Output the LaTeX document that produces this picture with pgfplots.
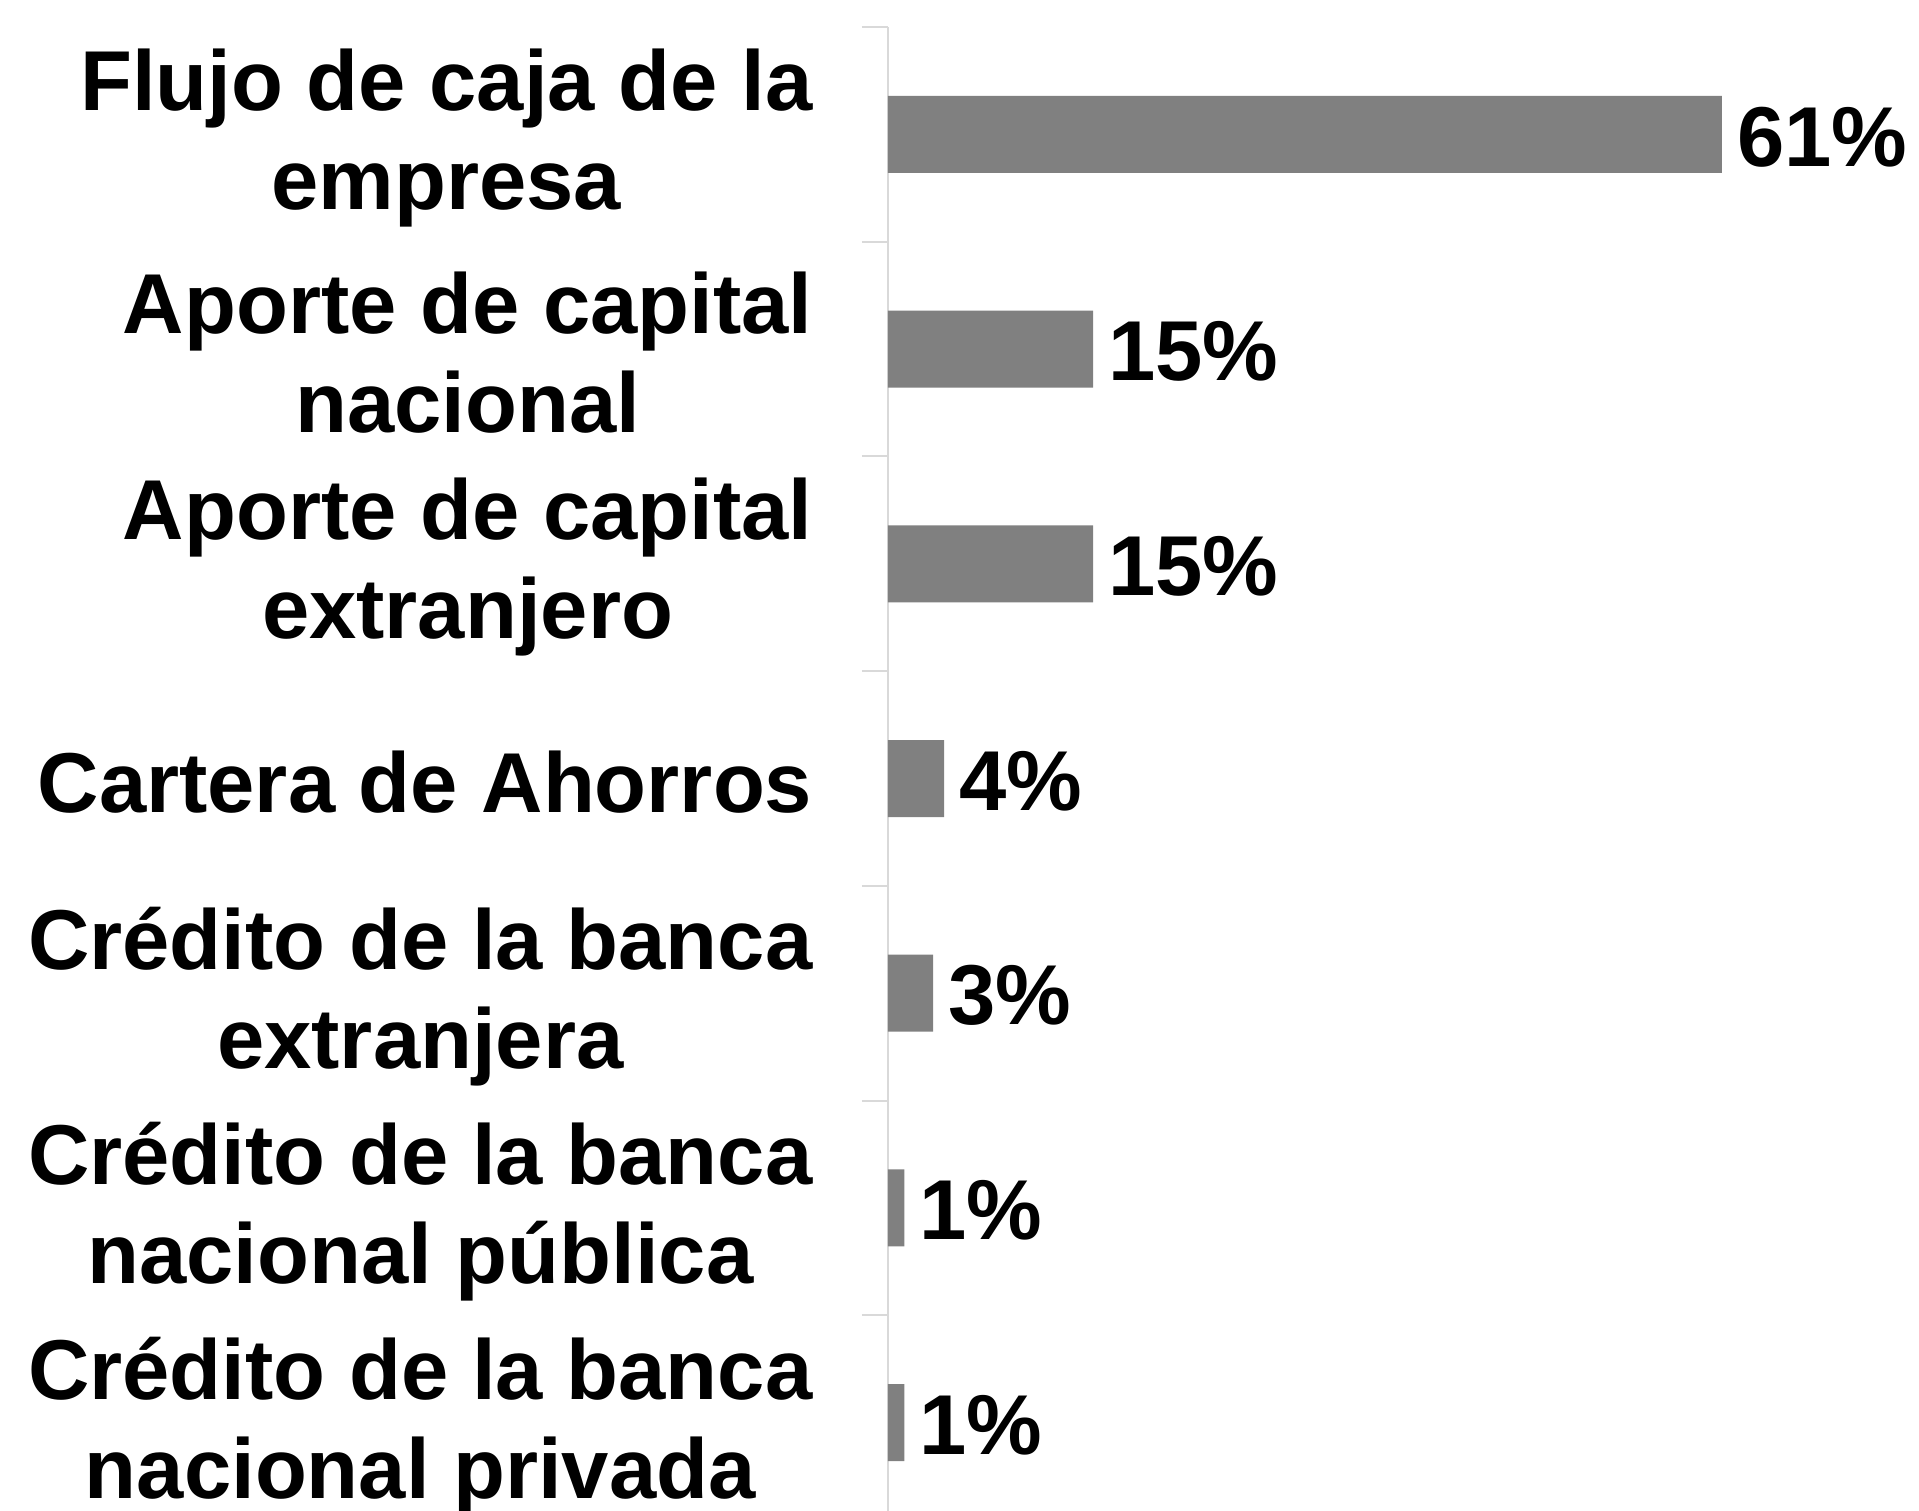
\documentclass[border=0pt]{standalone}
\usepackage{fontspec}
\setmainfont{Liberation Sans}
\usepackage{pgfplots}
\pgfplotsset{compat=1.18}
\definecolor{barc}{HTML}{808080}
\definecolor{axc}{HTML}{D9D9D9}
\newcommand{\lblfont}{\fontsize{21.25pt}{24.75pt}\selectfont\bfseries}
\begin{document}
\begin{tikzpicture}
\clip (0,0) rectangle (479.75pt,-377.75pt);
\path[use as bounding box] (0,0) rectangle (479.75pt,-377.75pt);
\begin{axis}[
  at={(222pt,-6.75pt)}, anchor=north west,
  scale only axis, width=256.3pt, height=375.75pt,
  xmin=0, xmax=75, ymin=-0.5, ymax=6.5, y dir=reverse,
  axis x line=none, axis y line*=left,
  axis line style={draw=axc, line width=0.5pt},
  ytick={0,...,6},
  yticklabels={{Flujo de caja de la\\empresa},{Aporte de capital\\nacional},{Aporte de capital\\extranjero},{Cartera de Ahorros},{Crédito de la banca\\extranjera},{Crédito de la banca\\nacional pública},{Crédito de la banca\\nacional privada}},
  yticklabel style={font=\lblfont, align=center, inner sep=0pt, xshift=-18.7pt, yshift=-0.9pt},
  major tick length=0pt,
  minor ytick={-0.5,0.5,...,6.5},
  minor tick length=6.5pt, tick align=outside,
  minor tick style={draw=axc, line width=0.5pt},
  xbar, bar width=19.25pt, bar shift=0pt,
  point meta=explicit symbolic,
  nodes near coords,
  nodes near coords style={font=\lblfont, anchor=west, inner sep=0pt, xshift=3.6pt, yshift=-0.6pt, text=black},
  clip=false,
]
\addplot[fill=barc, draw=none] coordinates {
  (61,0) [61\%]
  (15,1) [15\%]
  (15,2) [15\%]
  (4.1,3) [4\%]
  (3.3,4) [3\%]
  (1.2,5) [1\%]
  (1.2,6) [1\%]
};
\end{axis}
\end{tikzpicture}
\end{document}
